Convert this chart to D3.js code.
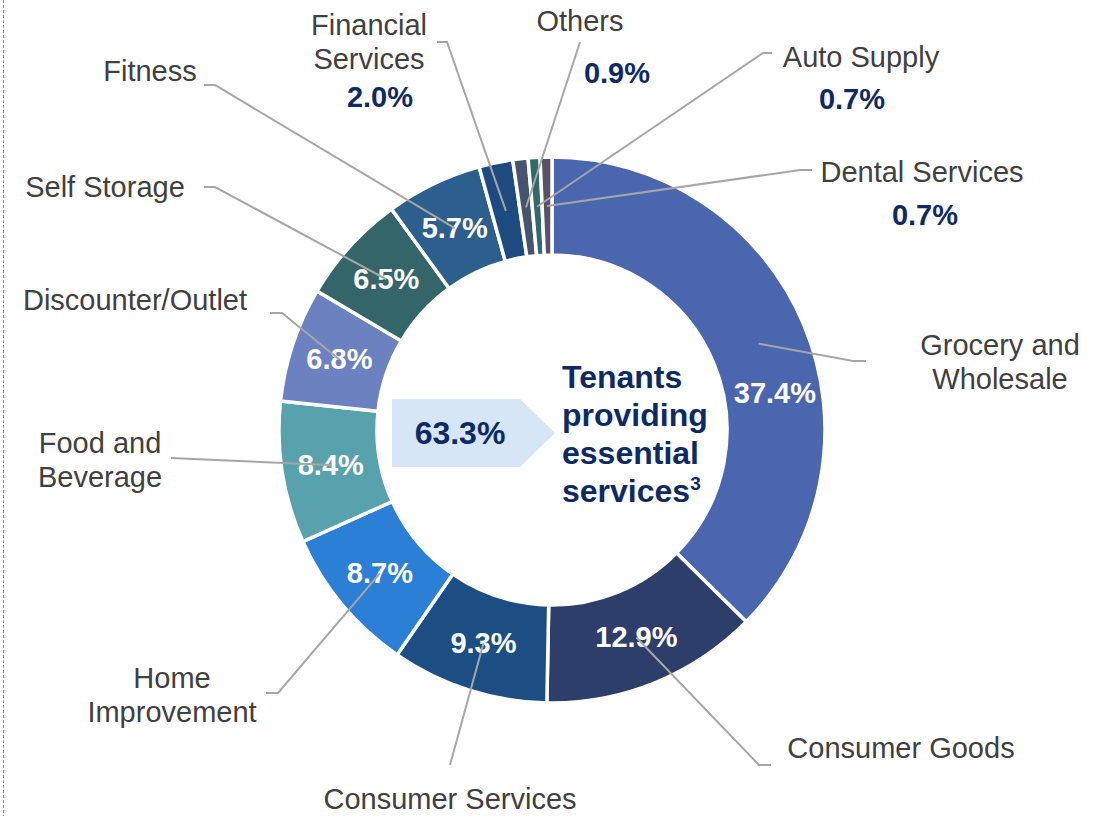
<!DOCTYPE html>
<html>
<head>
<meta charset="utf-8">
<script src="https://cdn.jsdelivr.net/npm/d3@7"></script>
<style>
  html, body { margin: 0; padding: 0; background: #fff; }
  svg { display: block; font-family: "Liberation Sans", Arial, sans-serif; }
</style>
</head>
<body>
<svg id="chart" width="1102" height="816"></svg>
<script>
// ---- data ----
const categories = ["Grocery and Wholesale", "Consumer Goods", "Consumer Services", "Home Improvement",
  "Food and Beverage", "Discounter/Outlet", "Self Storage", "Fitness", "Financial Services",
  "Others", "Auto Supply", "Dental Services"];
const values = [37.4, 12.9, 9.3, 8.7, 8.4, 6.8, 6.5, 5.7, 2.0, 0.9, 0.7, 0.7];
const labelLines = [["Grocery and", "Wholesale"], ["Consumer Goods"], ["Consumer Services"], ["Home", "Improvement"],
  ["Food and", "Beverage"], ["Discounter/Outlet"], ["Self Storage"], ["Fitness"], ["Financial", "Services"],
  ["Others"], ["Auto Supply"], ["Dental Services"]];
const insideLabel = [true, true, true, true, true, true, true, true, false, false, false, false];
const essentialShare = "63.3%";
const centerLines = ["Tenants", "providing", "essential", "services"];

// ---- style / layout ----
const colors = ["#4a66ae", "#2d3e6a", "#1c4e84", "#2b7fd5", "#58a2ad", "#6c81c0", "#346568",
  "#2c5f8d", "#1d4a7f", "#46546e", "#2f6b68", "#5a5264"];
// outside label: [centerX, firstBaselineY, pctCenterX, pctBaselineY]
const labelPos = [
  [1000, 355, null, null], [901, 758, null, null], [450, 809, null, null], [172, 688, null, null],
  [100, 453, null, null], [135, 310, null, null], [105, 197, null, null], [150, 81, null, null],
  [369, 35, 380, 107], [580, 31, 617, 83], [861, 67, 852, 109], [922, 182, 925, 225]];
// leader: [elbowX, elbowY, endX]
const leaders = [
  [853, 361, 866], [759, 765, 771], [450, 765, 450], [278, 693, 266],
  [171, 458, 171], [282, 313, 270], [215, 187, 204], [215, 85, 204],
  [447, 42, 437], [580, 42, 580], [763, 53, 772], [800, 170, 812]];

const cx = 552, cy = 430, R = 273, r = 175, rLabel = 224;
const svg = d3.select("#chart");

// dashed separator on the left
svg.append("line").attr("x1", 3.5).attr("x2", 3.5).attr("y1", 0).attr("y2", 816)
  .attr("stroke", "#8a8a8a").attr("stroke-width", 1).attr("stroke-dasharray", "3,2");

const g = svg.append("g").attr("transform", `translate(${cx},${cy})`);
const pie = d3.pie().sort(null).value(d => d)(values);
const arc = d3.arc().innerRadius(r).outerRadius(R);
const labelArc = d3.arc().innerRadius(rLabel).outerRadius(rLabel);

g.selectAll("path.slice").data(pie).enter().append("path")
  .attr("class", "slice")
  .attr("d", arc)
  .attr("fill", (d, i) => colors[i])
  .attr("stroke", "#fff").attr("stroke-width", 3.5).attr("stroke-linejoin", "miter");

// leader lines
pie.forEach((d, i) => {
  const [x0, y0] = labelArc.centroid(d);
  const [ex, ey, endX] = leaders[i];
  const pts = [[x0 + cx, y0 + cy], [ex, ey], [endX, ey]];
  svg.append("path")
    .attr("d", d3.line()(pts))
    .attr("fill", "none").attr("stroke", "#a6a6a6").attr("stroke-width", 2);
});

// inside percentage labels
pie.forEach((d, i) => {
  if (!insideLabel[i]) return;
  let [x, y] = labelArc.centroid(d);
  if (i === 0) { // grocery label sits lower in the slice
    const a = (d.startAngle + d.endAngle) / 2 + 0.23;
    x = Math.sin(a) * (rLabel + 2); y = -Math.cos(a) * (rLabel + 2);
  }
  g.append("text").attr("x", x).attr("y", y + 10)
    .attr("text-anchor", "middle").attr("fill", "#fff")
    .attr("font-weight", "bold").attr("font-size", 29)
    .text(d3.format(".1f")(values[i]) + "%");
});

// outside category labels
labelLines.forEach((lines, i) => {
  const [lx, ly, px, py] = labelPos[i];
  const t = svg.append("text").attr("text-anchor", "middle").attr("fill", "#404040").attr("font-size", 29);
  lines.forEach((ln, k) => {
    t.append("tspan").attr("x", lx).attr("y", ly + k * 34).text(ln);
  });
  if (px !== null) {
    svg.append("text").attr("x", px).attr("y", py).attr("text-anchor", "middle")
      .attr("fill", "#0d2a66").attr("font-weight", "bold").attr("font-size", 29)
      .text(d3.format(".1f")(values[i]) + "%");
  }
});

// center arrow box
svg.append("path")
  .attr("d", d3.line()([[392, 399], [520, 399], [555, 433], [520, 467], [392, 467]]) + "Z")
  .attr("fill", "#d6e6f7");
svg.append("text").attr("x", 460).attr("y", 444).attr("text-anchor", "middle")
  .attr("fill", "#0d2a66").attr("font-weight", "bold").attr("font-size", 32)
  .text(essentialShare);

const ct = svg.append("text").attr("fill", "#0d2a66").attr("font-weight", "bold").attr("font-size", 32);
centerLines.forEach((ln, k) => {
  ct.append("tspan").attr("x", 562).attr("y", 388 + k * 38).text(ln);
});
ct.append("tspan").attr("font-size", 19).attr("dy", -12).text("3");
</script>
</body>
</html>
